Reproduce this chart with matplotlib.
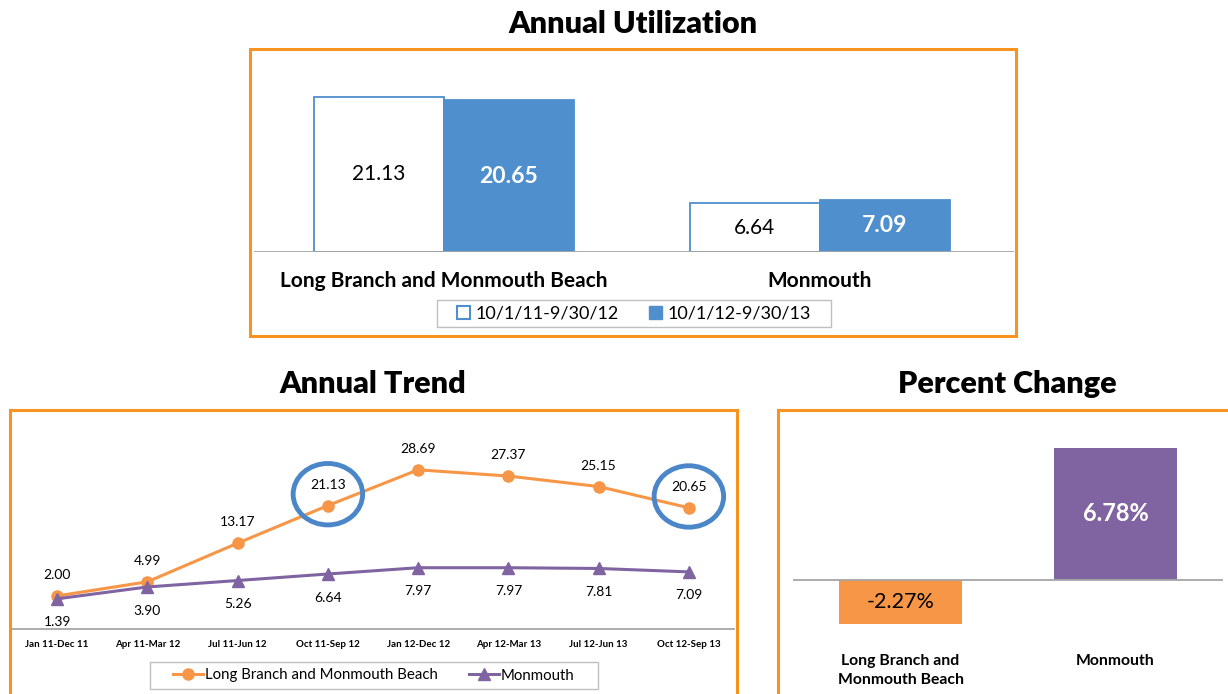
import matplotlib
matplotlib.use("Agg")
import matplotlib.pyplot as plt
from matplotlib.patches import Rectangle, Ellipse, Patch
from matplotlib.lines import Line2D

plt.rcParams['font.family'] = ['Lato', 'DejaVu Sans']

# ---- data ----
util_categories = ["Long Branch and Monmouth Beach", "Monmouth"]
util_periods = ["10/1/11-9/30/12", "10/1/12-9/30/13"]
util_prev = [21.13, 6.64]
util_curr = [20.65, 7.09]

trend_labels = ["Jan 11-Dec 11", "Apr 11-Mar 12", "Jul 11-Jun 12", "Oct 11-Sep 12",
                "Jan 12-Dec 12", "Apr 12-Mar 13", "Jul 12-Jun 13", "Oct 12-Sep 13"]
trend_lbmb = [2.00, 4.99, 13.17, 21.13, 28.69, 27.37, 25.15, 20.65]
trend_monmouth = [1.39, 3.90, 5.26, 6.64, 7.97, 7.97, 7.81, 7.09]
trend_series = ["Long Branch and Monmouth Beach", "Monmouth"]
highlight_idx = [3, 7]

pct_categories = ["Long Branch and\nMonmouth Beach", "Monmouth"]
pct_change = [-2.27, 6.78]

# ---- colours ----
ORANGE_BOX = "#F7931E"
ORANGE = "#F79646"
BLUE = "#4F8FCD"
PURPLE = "#8064A2"
CIRCLE = "#4A86C8"
GRID = "#A6A6A6"
LEG_EDGE = "#BFBFBF"

W, H = 1228, 694
fig = plt.figure(figsize=(W / 100, H / 100), dpi=100)


def frac(x0, y0, x1, y1):
    """pixel box (top-left origin) -> figure fraction [l, b, w, h]"""
    return [x0 / W, 1 - y1 / H, (x1 - x0) / W, (y1 - y0) / H]


def fig_rect(x0, y0, x1, y1, color, lw):
    l, b, w, h = frac(x0, y0, x1, y1)
    fig.patches.append(Rectangle((l, b), w, h, transform=fig.transFigure,
                                 fill=False, edgecolor=color, linewidth=lw))


def clean(ax):
    for s in ax.spines.values():
        s.set_visible(False)
    ax.set_yticks([])
    ax.tick_params(axis='x', length=0)


# ---- panel frames and titles ----
fig_rect(250, 49, 1016, 336, ORANGE_BOX, 2.2)
fig_rect(10, 410, 737, 700, ORANGE_BOX, 2.2)
fig_rect(778, 410, 1235, 700, ORANGE_BOX, 2.2)
fig.text(633 / W, 1 - 24 / H, "Annual Utilization", ha='center', va='center',
         fontsize=22, fontweight='heavy')
fig.text(373 / W, 1 - 384 / H, "Annual Trend", ha='center', va='center',
         fontsize=22, fontweight='heavy')
fig.text(1007 / W, 1 - 384 / H, "Percent Change", ha='center', va='center',
         fontsize=22, fontweight='heavy')

# ---- Annual Utilization ----
ax1 = fig.add_axes(frac(254, 61, 1014, 252))
clean(ax1)
bw = 0.346
xs = range(len(util_categories))
ax1.bar([x - bw / 2 for x in xs], util_prev, width=bw, facecolor='white',
        edgecolor=BLUE, linewidth=1.3)
ax1.bar([x + bw / 2 for x in xs], util_curr, width=bw, facecolor=BLUE,
        edgecolor=BLUE, linewidth=1.3)
for x, v in zip(xs, util_prev):
    ax1.text(x - bw / 2, v / 2, f"{v:.2f}", ha='center', va='center', fontsize=15,
             color='black')
for x, v in zip(xs, util_curr):
    ax1.text(x + bw / 2, v / 2, f"{v:.2f}", ha='center', va='center', fontsize=16.5,
             color='white', fontweight='bold')
ax1.set_xlim(-0.505, 1.516)
ax1.set_ylim(0, 26)
ax1.axhline(0, color=GRID, linewidth=1.3)
ax1.set_xticks(list(xs))
ax1.set_xticklabels(util_categories, fontsize=15, fontweight='bold')
ax1.tick_params(axis='x', pad=14)
fig_rect(437, 300, 831, 327, LEG_EDGE, 1.0)
fig.legend([Patch(facecolor='white', edgecolor=BLUE, linewidth=1.5),
            Patch(facecolor=BLUE, edgecolor=BLUE)], util_periods,
           loc='center', bbox_to_anchor=(634 / W, 1 - 313.5 / H), ncol=2,
           fontsize=13, frameon=False, handlelength=0.7, handleheight=0.7,
           handletextpad=0.3, columnspacing=1.7)

# ---- Annual Trend ----
ax2 = fig.add_axes(frac(12, 440, 734, 629))
clean(ax2)
tx = list(range(len(trend_labels)))
ax2.plot(tx, trend_lbmb, color=ORANGE, linewidth=2.2, marker='o', markersize=8,
         label=trend_series[0], zorder=3)
ax2.plot(tx, trend_monmouth, color=PURPLE, linewidth=2.2, marker='^', markersize=9,
         label=trend_series[1], zorder=4)
for x, v in zip(tx, trend_lbmb):
    ax2.annotate(f"{v:.2f}", (x, v), xytext=(0, 15), textcoords='offset points',
                 ha='center', va='center', fontsize=10)
for x, v in zip(tx, trend_monmouth):
    ax2.annotate(f"{v:.2f}", (x, v), xytext=(0, -17), textcoords='offset points',
                 ha='center', va='center', fontsize=10)
for i in highlight_idx:
    ax2.add_patch(Ellipse((i, trend_lbmb[i] + 2.4), 0.77, 13.0, fill=False,
                          edgecolor=CIRCLE, linewidth=3.5, clip_on=False, zorder=5))
ax2.set_xlim(-0.5, 7.5)
ax2.set_ylim(-5, 35)
ax2.spines['bottom'].set_visible(True)
ax2.spines['bottom'].set_color(GRID)
ax2.spines['bottom'].set_linewidth(1.3)
ax2.set_xticks(tx)
ax2.set_xticklabels(trend_labels, fontsize=7, fontweight='bold')
ax2.tick_params(axis='x', pad=8)
fig_rect(150, 662, 598, 689, LEG_EDGE, 1.0)
fig.legend(handles=[Line2D([], [], color=ORANGE, marker='o', linewidth=2.2, markersize=8),
                    Line2D([], [], color=PURPLE, marker='^', linewidth=2.2, markersize=9)],
           labels=trend_series, loc='center', bbox_to_anchor=(374 / W, 1 - 675.5 / H),
           ncol=2, fontsize=10.8, frameon=False, handlelength=2.0,
           handletextpad=0.1, columnspacing=2.1)

# ---- Percent Change ----
ax3 = fig.add_axes(frac(793, 424, 1223, 650))
clean(ax3)
px = list(range(len(pct_categories)))
ax3.bar(px, pct_change, width=0.57, color=[ORANGE, PURPLE])
ax3.axhline(0, color=GRID, linewidth=1.3)
ax3.text(0, pct_change[0] / 2, f"{pct_change[0]:.2f}%", ha='center', va='center',
         fontsize=15.5, color='black')
ax3.text(1, pct_change[1] / 2, f"{pct_change[1]:.2f}%", ha='center', va='center',
         fontsize=17, color='white', fontweight='bold')
ax3.set_xlim(-0.5, 1.5)
ax3.set_ylim(-3.6, 8)
ax3.set_xticks(px)
ax3.set_xticklabels(pct_categories, fontsize=11.3, fontweight='bold', linespacing=1.45)
ax3.tick_params(axis='x', pad=3)

fig.savefig("out.png", dpi=100)
